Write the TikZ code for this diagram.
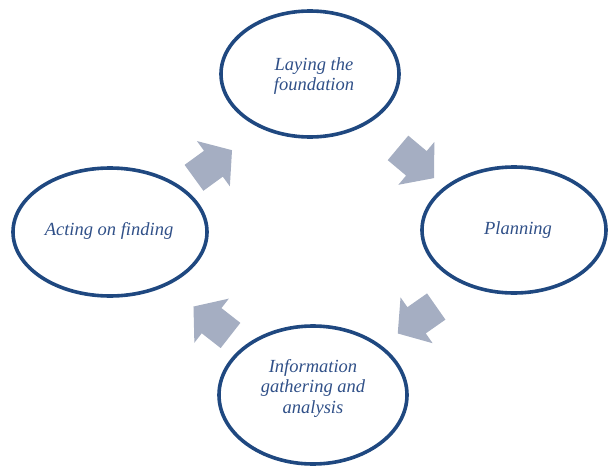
\documentclass[tikz,border=0pt]{standalone}
\usepackage{fontspec}
\setmainfont{Liberation Serif}
\begin{document}
\begin{tikzpicture}[x=1pt,y=-1pt,
  ring/.style={draw=ringblue,line width=3.6pt},
  lbl/.style={text=txtblue,font=\itshape\fontsize{18.5}{20.5}\selectfont,align=center,inner sep=0pt},
  blockarrow/.style={fill=arrowgray,draw=none}]
\definecolor{ringblue}{RGB}{31,72,128}
\definecolor{txtblue}{RGB}{48,80,136}
\definecolor{arrowgray}{RGB}{165,174,194}
\useasboundingbox (0,0) rectangle (608,471);
\draw[ring] (310,74) ellipse [x radius=89,y radius=63];
\draw[ring] (514,230) ellipse [x radius=92,y radius=63];
\draw[ring] (110,232) ellipse [x radius=97,y radius=64];
\draw[ring] (313,395) ellipse [x radius=94,y radius=69];
\node[lbl] (top) at (314,76) {Laying the\\foundation};
\node[lbl] (right) at (518,230) {Planning};
\node[lbl] (left) at (109,231) {Acting on finding};
\node[lbl] (bottom) at (313,388) {Information\\gathering and\\analysis};
% block arrows (local x along arrow)
\foreach \cx/\cy/\ang in {213/164/36, 416/163/-40, 417/320/215, 212/321/142}{
  \fill[blockarrow,shift={(\cx,\cy)},rotate=\ang]
    (-23.5,-16) -- (0.5,-16) -- (0.5,-28) -- (23.5,0) -- (0.5,28) -- (0.5,16) -- (-23.5,16) -- cycle;
}
\end{tikzpicture}
\end{document}
